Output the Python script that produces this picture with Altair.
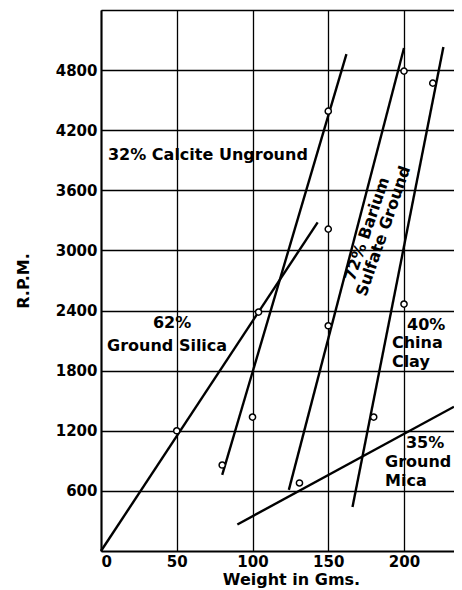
import altair as alt
import pandas as pd

# Fitted straight lines (endpoints)
line_names = ["Ground Silica", "Calcite Unground", "Barium Sulfate", "China Clay", "Ground Mica"]
line_x0 = [0, 80, 124, 166, 90]
line_y0 = [0, 760, 610, 440, 265]
line_x1 = [143, 162, 200, 226, 233]
line_y1 = [3280, 4960, 5020, 5030, 1440]

# Measured points (open circles)
pt_x = [50, 104, 80, 150, 100, 150, 150, 131, 200, 180, 200, 219]
pt_y = [1200, 2385, 858, 4390, 1337, 2248, 3213, 679, 4790, 1337, 2465, 4670]

# Horizontal labels
lab_text = ["32% Calcite Unground", "62%", "Ground Silica", "40%", "China", "Clay", "35%", "Ground", "Mica"]
lab_x = [4.6, 46.9, 4.0, 202, 192, 192, 201.3, 187.5, 187.5]
lab_y = [3952, 2275, 2046, 2255, 2076, 1886, 1075, 888, 698]
lab_align = ["left", "center", "left", "left", "left", "left", "left", "left", "left"]

# Rotated labels along the barium sulfate line
rot_text = ["72% Barium", "Sulfate Ground"]
rot_x = [175.6, 186.5]
rot_y = [3213, 3193]

x_ticks = [0, 50, 100, 150, 200]
y_ticks = [600, 1200, 1800, 2400, 3000, 3600, 4200, 4800, 5400]

lines_df = pd.DataFrame({"name": line_names, "x": line_x0, "y": line_y0, "x2": line_x1, "y2": line_y1})
pts_df = pd.DataFrame({"x": pt_x, "y": pt_y})
lab_df = pd.DataFrame({"text": lab_text, "x": lab_x, "y": lab_y, "align": lab_align})
rot_df = pd.DataFrame({"text": rot_text, "x": rot_x, "y": rot_y})

FONT = "DejaVu Sans"

xs = alt.Scale(domain=[0, 233], nice=False, zero=False)
ys = alt.Scale(domain=[0, 5400], nice=False, zero=False)

x_axis = alt.Axis(values=x_ticks, title="Weight in Gms.", grid=True, ticks=False, format="d",
                  labelPadding=3, titlePadding=2, titleX=190)
y_axis = alt.Axis(values=y_ticks, title="R.P.M.", grid=True, ticks=False, format="d",
                  labelPadding=4, titlePadding=24,
                  labelExpr="datum.value >= 5400 ? '' : datum.label")

base_lines = alt.Chart(lines_df).mark_rule(color="black", strokeWidth=2.4).encode(
    x=alt.X("x:Q", scale=xs, axis=x_axis),
    y=alt.Y("y:Q", scale=ys, axis=y_axis),
    x2="x2:Q",
    y2="y2:Q",
)

points = alt.Chart(pts_df).mark_point(shape="circle", filled=True, fill="white", stroke="black",
                                      strokeWidth=1.5, size=38, opacity=1).encode(
    x=alt.X("x:Q", scale=xs),
    y=alt.Y("y:Q", scale=ys),
)

left_labels = alt.Chart(lab_df[lab_df["align"] == "left"]).mark_text(
    align="left", baseline="middle", font=FONT, fontSize=16, fontWeight="bold", color="black"
).encode(x=alt.X("x:Q", scale=xs), y=alt.Y("y:Q", scale=ys), text="text:N")

center_labels = alt.Chart(lab_df[lab_df["align"] == "center"]).mark_text(
    align="center", baseline="middle", font=FONT, fontSize=16, fontWeight="bold", color="black"
).encode(x=alt.X("x:Q", scale=xs), y=alt.Y("y:Q", scale=ys), text="text:N")

rot_labels = alt.Chart(rot_df).mark_text(
    align="center", baseline="middle", angle=289, font=FONT, fontSize=16, fontWeight="bold", color="black"
).encode(x=alt.X("x:Q", scale=xs), y=alt.Y("y:Q", scale=ys), text="text:N")

chart = alt.layer(base_lines, points, left_labels, center_labels, rot_labels).properties(
    width=353,
    height=541,
    autosize=alt.AutoSizeParams(type="none"),
    padding={"left": 93, "top": 2, "right": 0, "bottom": 38},
    background="white",
).configure_view(stroke=None).configure_axis(
    domainColor="black", domainWidth=2, gridColor="black", gridWidth=1.3, gridOpacity=1,
    labelFont=FONT, labelFontSize=15, labelFontWeight="bold", labelColor="black",
    titleFont=FONT, titleFontSize=16, titleFontWeight="bold", titleColor="black",
)

chart.save("out.html", embed_options={"renderer": "svg", "actions": False})
